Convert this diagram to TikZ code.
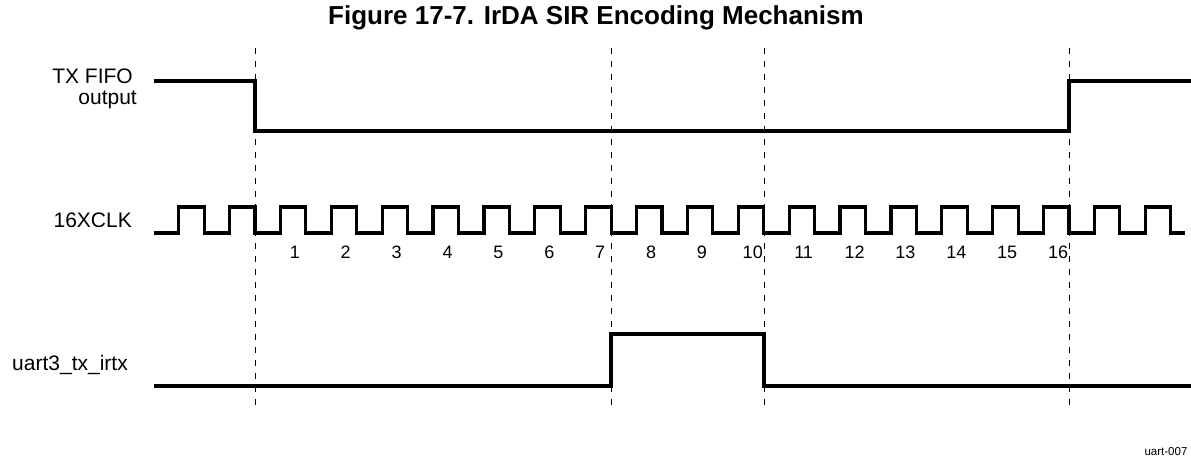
\documentclass[tikz,border=0pt]{standalone}
\usepackage{fontspec}
\setmainfont{Liberation Sans}
\begin{document}
\begin{tikzpicture}[x=1pt, y=-1pt,
    sig/.style={line width=3.2pt, line join=miter},
    guide/.style={line width=1pt, dash pattern=on 6pt off 7pt},
    lbl/.style={font=\fontsize{21}{21}\selectfont, inner sep=0pt},
    num/.style={font=\fontsize{18}{18}\selectfont, inner sep=0pt}]
    \useasboundingbox (0,0) rectangle (1191,459);
    \node[font=\bfseries\fontsize{26}{26}\selectfont, inner sep=0pt]
        (title) at (596,18) {Figure 17-7. IrDA SIR Encoding Mechanism};
    % dashed guides at the bit edges
    \foreach \x in {255,611,764,1069}
        \draw[guide] (\x,48) -- (\x,410);
    % signal names
    \node[lbl, anchor=base east] (txfifo) at (133,83) {TX FIFO};
    \node[lbl, anchor=base east] (txout) at (137,104) {output};
    \node[lbl, anchor=base east] (clk) at (132,227) {16XCLK};
    \node[lbl, anchor=base east] (irtx) at (128,370) {uart3\_tx\_irtx};
    % TX FIFO output
    \draw[sig] (154,81) -- (255,81) -- (255,131) -- (1069,131) -- (1069,81) -- (1191,81);
    % 16x clock
    \draw[sig] (154,233) foreach \k in {-1,...,18} {
        -- ({255+(\k-0.5)*50.875},233) -- ({255+(\k-0.5)*50.875},207)
        -- ({255+\k*50.875},207) -- ({255+\k*50.875},233) } -- (1185,233);
    \foreach \n in {1,...,16}
        \node[num] (c\n) at ({255+\n*50.875-11},252) {\n};
    % encoded pulse
    \draw[sig] (154,386) -- (611,386) -- (611,334) -- (764,334) -- (764,386) -- (1191,386);
    \node[font=\fontsize{11.5}{11.5}\selectfont, inner sep=0pt] (fig) at (1166,452) {uart-007};
\end{tikzpicture}
\end{document}
